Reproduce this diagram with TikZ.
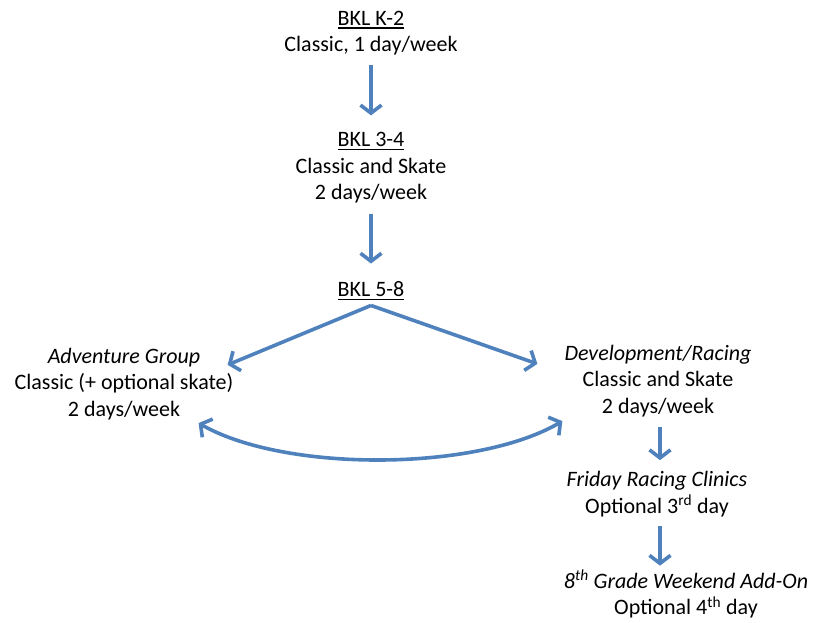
\documentclass[tikz,border=0pt]{standalone}
\usepackage{fontspec}
\setmainfont{Carlito}
\usepackage{tikz}
\usetikzlibrary{arrows.meta,positioning}
\definecolor{flowblue}{HTML}{4F81BD}
\newcommand{\lineunder}[1]{\leavevmode\setbox0=\hbox{#1}\rlap{\rule[-3.5pt]{\wd0}{1.3pt}}\box0}

\begin{document}
\begin{tikzpicture}[x=1pt,y=1pt,
  lvl/.style={align=center,inner sep=0pt,font=\fontsize{22}{26.5}\selectfont},
  flow/.style={draw=flowblue,line width=3.6pt,-{Straight Barb[length=8pt,width=21pt]}},
  twoway/.style={draw=flowblue,line width=3.6pt,{Straight Barb[length=8pt,width=21pt]}-{Straight Barb[length=8pt,width=21pt]}}]
\useasboundingbox (0,0) rectangle (815,-623);

\node[lvl] at (371,-33)  (kTwo) {\lineunder{BKL K-2}\\Classic, 1 day/week};
\node[lvl] at (371,-168) (threeFour) {\lineunder{BKL 3-4}\\Classic and Skate\\2 days/week};
\node[lvl] at (371,-291) (fiveEight) {\lineunder{BKL 5-8}};

\node[lvl] at (124,-384) (adventure) {\textit{Adventure Group}\\Classic (+ optional skate)\\2 days/week};
\node[lvl] at (658,-381) (racing) {\textit{Development/Racing}\\Classic and Skate\\2 days/week};

\node[lvl] at (657,-494) (friday) {\textit{Friday Racing Clinics}\\Optional 3\textsuperscript{rd} day};
\node[lvl] at (686,-594) (weekend) {\textit{8\textsuperscript{th} Grade Weekend Add-On}\\Optional 4\textsuperscript{th} day};

% straight down
\draw[flow, shorten <=10pt, shorten >=17pt] (kTwo.south) -- (threeFour.north);
\draw[flow, shorten <=10pt, shorten >=18pt] (threeFour.south) -- (fiveEight.north);

% split into the two groups
\draw[flow] ([yshift=-5pt]fiveEight.south) -- ([xshift=-6pt,yshift=-17pt]adventure.north east);
\draw[flow] ([yshift=-5pt]fiveEight.south) -- ([xshift=-27pt,yshift=-19pt]racing.north west);

% switching between groups
\draw[twoway] ([xshift=-35pt,yshift=-3pt]adventure.south east) to[bend right=30,looseness=0.7] ([xshift=-2pt,yshift=-4pt]racing.south west);

% racing add-ons
\draw[flow, shorten <=10pt, shorten >=11pt] ([xshift=2pt]racing.south) -- ([xshift=3pt]friday.north);
\draw[flow, shorten <=9pt, shorten >=4pt] ([xshift=3pt]friday.south) -- ([xshift=-26pt]weekend.north);

\end{tikzpicture}
\end{document}
